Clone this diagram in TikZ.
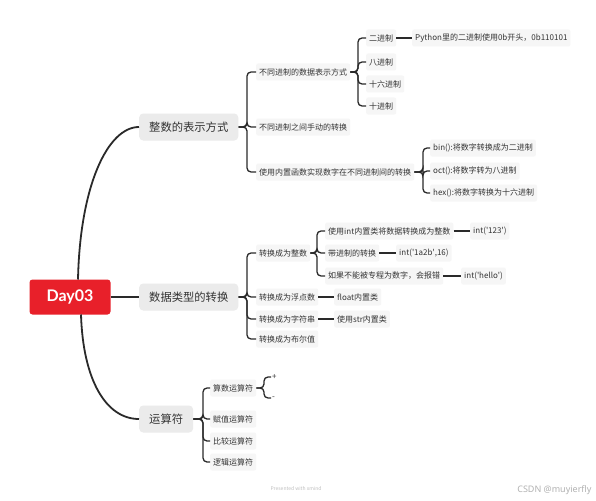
\documentclass[tikz,border=0pt]{standalone}
\usepackage{fontspec}
\setmainfont{Noto Sans CJK SC}
\newfontfamily\rootfont{Lato}
\newfontfamily\footfont{Noto Sans}
\definecolor{rootred}{HTML}{E8202A}
\definecolor{txt}{HTML}{333333}
\definecolor{lonefill}{HTML}{EBEBEB}
\definecolor{leaffill}{HTML}{F6F6F6}
\definecolor{linec}{HTML}{2A2A2A}
\tikzset{
  rootbox/.style={fill=rootred, rounded corners=3pt, text=white, font=\rootfont\bfseries\fontsize{16}{16}\selectfont, minimum width=81pt, minimum height=35pt, inner sep=0pt},
  lone/.style={fill=lonefill, rounded corners=4pt, text=txt, font=\fontsize{11.3}{12}\selectfont, minimum height=27pt, inner xsep=10pt, inner ysep=0pt, anchor=west},
  leaf/.style={fill=leaffill, rounded corners=2pt, text=txt, font=\fontsize{8}{9}\selectfont, minimum height=17pt, inner xsep=3pt, inner ysep=0pt, anchor=west},
  tiny/.style={text=txt, font=\fontsize{8}{9}\selectfont, inner sep=1pt, anchor=west},
  conn/.style={draw=linec, line width=1.3pt, rounded corners=4pt},
  mainconn/.style={draw=linec, line width=1.8pt},
}
\begin{document}
\begin{tikzpicture}[x=1pt,y=-1pt]
\fill[white] (0,0) rectangle (596,500);
\useasboundingbox (0,0) rectangle (596,500);

% root and level 1
\node[rootbox] (R) at (70,297) {Day03};
\node[lone] (A) at (139,127) {整数的表示方式};
\node[lone] (B) at (139,297) {数据类型的转换};
\node[lone] (C) at (139,419) {运算符};

\coordinate (Rt) at (78,279.5);
\coordinate (Rb) at (81,314.5);
\draw[mainconn] (Rt) .. controls (80,185) and (108,127) .. (A.west);
\draw[mainconn] (R.east) -- (B.west);
\draw[mainconn] (Rb) .. controls (83,380) and (106,419) .. (C.west);

% bracket coordinates
\coordinate (bA) at (247,0);
\coordinate (bA1) at (358,0);
\coordinate (bA3) at (423,0);
\coordinate (bB) at (247,0);
\coordinate (bB1) at (317,0);
\coordinate (bC) at (203,0);
\coordinate (bC1) at (264,0);

% A branch
\node[leaf] (A1) at (256,72) {不同进制的数据表示方式};
\node[leaf] (A2) at (256,127) {不同进制之间手动的转换};
\node[leaf] (A3) at (256,172) {使用内置函数实现数字在不同进制间的转换};
\foreach \c in {A1,A2,A3}{\draw[conn] (A.east) -- (A.east -| bA) |- (\c.west);}

\node[leaf] (A11) at (366,38) {二进制};
\node[leaf] (A12) at (366,62) {八进制};
\node[leaf] (A13) at (366,84) {十六进制};
\node[leaf] (A14) at (366,106) {十进制};
\foreach \c in {A11,A12,A13,A14}{\draw[conn] (A1.east) -- (A1.east -| bA1) |- (\c.west);}
\node[leaf] (A111) at (412,38) {Python里的二进制使用0b开头，0b110101};
\draw[conn] (A11.east) -- (A111.west);

\node[leaf] (A31) at (430,148) {bin():将数字转换成为二进制};
\node[leaf] (A32) at (430,171) {oct():将数字转为八进制};
\node[leaf] (A33) at (430,193) {hex():将数字转换为十六进制};
\foreach \c in {A31,A32,A33}{\draw[conn] (A3.east) -- (A3.east -| bA3) |- (\c.west);}

% B branch
\node[leaf] (B1) at (256,253) {转换成为整数};
\node[leaf] (B2) at (256,297) {转换成为浮点数};
\node[leaf] (B3) at (256,319) {转换成为字符串};
\node[leaf] (B4) at (256,339) {转换成为布尔值};
\foreach \c in {B1,B2,B3,B4}{\draw[conn] (B.east) -- (B.east -| bB) |- (\c.west);}

\node[leaf] (B11) at (325,231) {使用int内置类将数据转换成为整数};
\node[leaf] (B12) at (325,253) {带进制的转换};
\node[leaf] (B13) at (325,276) {如果不能被专程为数字，会报错};
\foreach \c in {B11,B12,B13}{\draw[conn] (B1.east) -- (B1.east -| bB1) |- (\c.west);}
\node[leaf] (B111) at (470,231) {int(\textquotesingle123\textquotesingle)};
\node[leaf] (B121) at (396,253) {int(\textquotesingle1a2b\textquotesingle,16)};
\node[leaf] (B131) at (461,276) {int(\textquotesingle hello\textquotesingle)};
\draw[conn] (B11.east) -- (B111.west);
\draw[conn] (B12.east) -- (B121.west);
\draw[conn] (B13.east) -- (B131.west);

\node[leaf] (B21) at (334,297) {float内置类};
\node[leaf] (B31) at (334,319) {使用str内置类};
\draw[conn] (B2.east) -- (B21.west);
\draw[conn] (B3.east) -- (B31.west);

% C branch
\node[leaf] (C1) at (210,388) {算数运算符};
\node[leaf] (C2) at (210,419) {赋值运算符};
\node[leaf] (C3) at (210,441) {比较运算符};
\node[leaf] (C4) at (210,462) {逻辑运算符};
\foreach \c in {C1,C2,C3,C4}{\draw[conn] (C.east) -- (C.east -| bC) |- (\c.west);}

\node[tiny] (C11) at (271,377) {+};
\node[tiny] (C12) at (271,398) {-};
\foreach \c in {C11,C12}{\draw[conn] (C1.east) -- (C1.east -| bC1) |- (\c.west);}

% footer
\node[text=black!25, font=\fontsize{5}{6}\selectfont] (F1) at (296,489) {Presented with xmind};
\node[text=black!30, font=\footfont\fontsize{9}{10}\selectfont, anchor=east] (F2) at (595,490) {CSDN @muyierfly};
\end{tikzpicture}
\end{document}
